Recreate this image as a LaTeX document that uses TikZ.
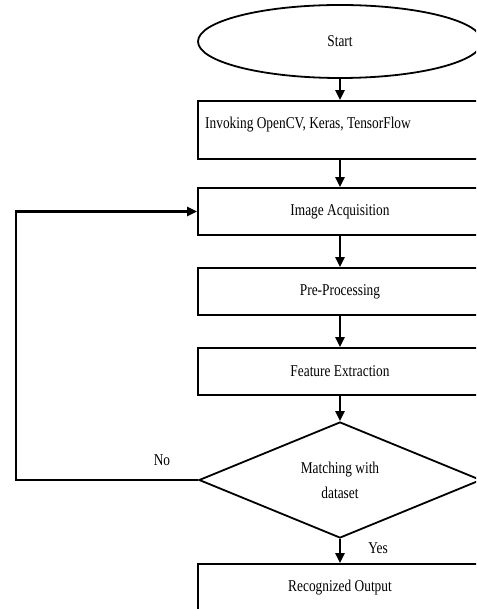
\documentclass[tikz,border=0pt]{standalone}
\usepackage{fontspec}
\setmainfont{Liberation Serif}[FakeStretch=0.81]
\usetikzlibrary{shapes.geometric,arrows.meta}
\tikzset{
  txt/.style={inner sep=0pt, font=\fontsize{16.5}{20}\selectfont},
  box/.style={draw, line width=1.8pt, minimum width=284pt, minimum height=47pt, inner sep=0pt, font=\fontsize{16.5}{20}\selectfont},
  arr/.style={line width=2.6pt, -{Triangle[length=10pt,width=9pt]}},
}
\begin{document}
\begin{tikzpicture}[x=1pt,y=-1pt]
\useasboundingbox (0,0) rectangle (476,609);
\clip (0,0) rectangle (476,609);
\node[draw, ellipse, line width=1.8pt, minimum width=284pt, minimum height=73pt, inner sep=0pt, font=\fontsize{16.5}{20}\selectfont] (start) at (340,41.5) {Start};
\node[box, minimum height=58pt] (inv) at (340,130) {};
\node[txt, anchor=west] (invt) at (205,125) {Invoking OpenCV, Keras, TensorFlow};
\node[box] (acq) at (340,211.5) {Image Acquisition};
\node[box] (pre) at (340,291.5) {Pre-Processing};
\node[box] (feat) at (340,371.5) {Feature Extraction};
\node[draw, diamond, aspect=2.43, minimum width=282pt, minimum height=116pt, inner sep=0pt, line width=1.8pt, align=center, font=\fontsize{16.5}{25}\selectfont] (dia) at (340,480) {Matching with\\dataset};
\node[box] (out) at (340,587.5) {Recognized Output};
\coordinate (lp) at (16,480);
\node[txt] (no) at (162,460) {No};
\node[txt] (yes) at (378,548) {Yes};
\draw[arr] (start.south) -- (inv.north);
\draw[arr] (inv.south) -- (acq.north);
\draw[arr] (acq.south) -- (pre.north);
\draw[arr] (pre.south) -- (feat.north);
\draw[arr] (feat.south) -- (dia.north);
\draw[arr] (dia.south) -- (out.north);
\draw[arr] (dia.west) -- (lp) |- (acq.west);
\end{tikzpicture}
\end{document}
